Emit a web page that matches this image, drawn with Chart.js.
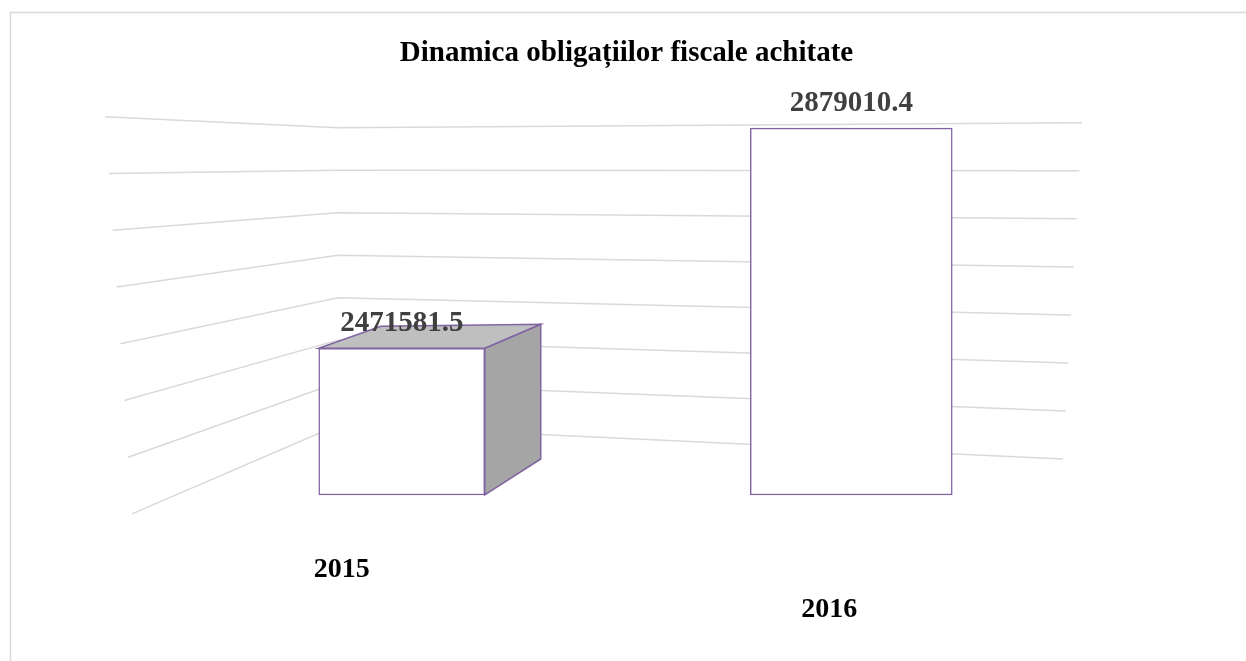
<!DOCTYPE html>
<html lang="ro">

<head>
  <meta charset="utf-8">
  <title>Dinamica obligațiilor fiscale achitate</title>
  <script src="https://cdn.jsdelivr.net/npm/chart.js"></script>
  <style>
    html, body { margin: 0; padding: 0; background: #fff; overflow: hidden; }
    canvas { display: block; }
  </style>
</head>

<body>
  <canvas id="chart" width="1246" height="661"></canvas>

  <script>
    // date
    const categories = ['2015', '2016'];
    const values = [2471581.5, 2879010.4];
    const valueLabels = ['2471581.5', '2879010.4'];
    const titleText = 'Dinamica obligațiilor fiscale achitate';
    const yMin = 2200000;
    const yMax = 2900000;
    const yStep = 100000;

    // stil
    const serif = "'Liberation Serif', 'Times New Roman', serif";
    const barThickness = [166, 202];
    const purple = '#8064a2';
    const gridColor = '#d9d9d9';

    // un dataset pentru fiecare an, ca sa aiba latimi diferite (perspectiva)
    const datasets = categories.map(function (cat, i) {
      return {
        label: cat,
        data: values.map(function (v, j) { return j === i ? v : null; }),
        base: yMin,
        backgroundColor: '#ffffff',
        borderColor: purple,
        borderWidth: 1.5,
        borderSkipped: false,
        barThickness: barThickness[i],
        grouped: false,
        clip: false
      };
    });

    // chenarul, gridul in perspectiva, fetele 3D si etichetele
    const decor = {
      id: 'decor',
      beforeDraw(chart) {
        const ctx = chart.ctx;
        ctx.save();
        ctx.fillStyle = '#fff';
        ctx.fillRect(0, 0, chart.width, chart.height);
        ctx.strokeStyle = gridColor;
        ctx.lineWidth = 1.5;
        ctx.strokeRect(10.5, 12.5, chart.width + 20, chart.height + 20);
        ctx.restore();
      },
      beforeDatasetsDraw(chart) {
        const ctx = chart.ctx;
        const a = chart.chartArea;
        const h = a.bottom - a.top;
        const y = chart.scales.y;
        ctx.save();
        ctx.strokeStyle = gridColor;
        ctx.lineWidth = 1.5;
        y.ticks.forEach(function (tick) {
          const p = y.getPixelForValue(tick.value);
          const t = (p - a.top) / h;
          ctx.beginPath();
          ctx.moveTo(a.left - 72 + 27 * t, a.top + t * h * 1.05);
          ctx.lineTo(a.left + 161, a.top + 11 + t * h * 0.786);
          ctx.lineTo(a.right + 6 - 19 * t, a.top + 6 + t * h * 0.889);
          ctx.stroke();
        });
        ctx.restore();
      },
      afterDatasetsDraw(chart) {
        const ctx = chart.ctx;
        const a = chart.chartArea;
        const mid = (a.left + a.right) / 2;
        ctx.save();
        chart.data.datasets.forEach(function (ds, i) {
          const bar = chart.getDatasetMeta(i).data[i];
          if (!bar) return;
          const left = bar.x - bar.width / 2;
          const right = bar.x + bar.width / 2;
          // bara din stanga punctului de fuga: se vad fata laterala si capacul
          if (bar.x < mid) {
            ctx.lineWidth = 1.5;
            ctx.strokeStyle = purple;
            ctx.fillStyle = '#a5a5a5';
            ctx.beginPath();
            ctx.moveTo(right, bar.y);
            ctx.lineTo(right + 56, bar.y - 24);
            ctx.lineTo(right + 56, bar.base - 36);
            ctx.lineTo(right, bar.base);
            ctx.closePath();
            ctx.fill();
            ctx.stroke();
            ctx.fillStyle = '#bfbfbf';
            ctx.beginPath();
            ctx.moveTo(left, bar.y);
            ctx.lineTo(left + 62, bar.y - 22);
            ctx.lineTo(right + 56, bar.y - 24);
            ctx.lineTo(right, bar.y);
            ctx.closePath();
            ctx.fill();
            ctx.stroke();
          }
          // valoarea deasupra barei
          ctx.fillStyle = '#404040';
          ctx.font = 'bold 29px ' + serif;
          ctx.textAlign = 'center';
          ctx.textBaseline = 'alphabetic';
          ctx.fillText(valueLabels[i], bar.x, bar.y - 17);
        });

        // etichetele anilor, deplasate de perspectiva
        const x = chart.scales.x;
        const shift = [[-60, 82], [-22, 122]];
        ctx.fillStyle = '#000';
        ctx.font = 'bold 28px ' + serif;
        ctx.textAlign = 'center';
        categories.forEach(function (cat, i) {
          ctx.fillText(cat, x.getPixelForValue(i) + shift[i][0], a.bottom + shift[i][1]);
        });
        ctx.restore();
      }
    };

    new Chart(document.getElementById('chart'), {
      type: 'bar',
      data: { labels: categories, datasets: datasets },
      options: {
        responsive: false,
        animation: false,
        devicePixelRatio: 1,
        layout: { padding: { left: 177, right: 170, top: 0, bottom: 166 } },
        plugins: {
          legend: { display: false },
          tooltip: { enabled: false },
          title: {
            display: true,
            text: titleText,
            color: '#000',
            font: { family: serif, size: 29, weight: 'bold' },
            padding: { top: 36, bottom: 46 }
          }
        },
        scales: {
          x: { display: false },
          y: {
            display: false,
            min: yMin,
            max: yMax,
            ticks: { stepSize: yStep }
          }
        }
      },
      plugins: [decor]
    });
  </script>
</body>

</html>
